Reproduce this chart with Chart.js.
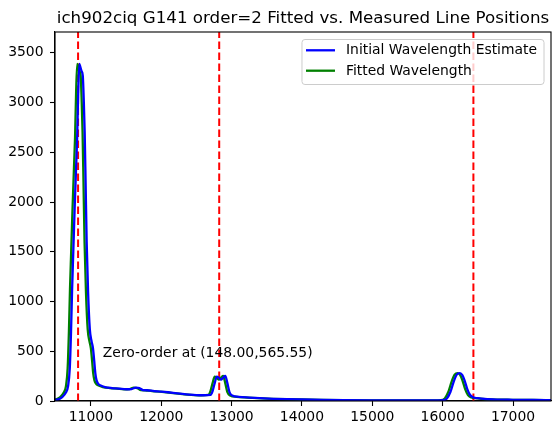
<!DOCTYPE html>
<html>
<head>
<meta charset="utf-8">
<script src="https://cdn.jsdelivr.net/npm/chart.js@4.4.1/dist/chart.umd.min.js"></script>
<style>
    html, body { margin: 0; padding: 0; background: #fff; }
    #wrap { width: 560px; height: 435px; }
</style>
</head>
<body>
<div id="wrap"><canvas id="chart" width="560" height="435"></canvas></div>
<script>
// Spectrum values
const wavelengthInitial = [10490, 10534, 10570, 10605, 10640, 10676, 10700, 10718, 10733, 10750,
    10770, 10790, 10805, 10820, 10836, 10850, 10866, 10885, 10900, 10912,
    10925, 10940, 10960, 10985, 11010, 11030, 11048, 11063, 11080, 11102,
    11140, 11200, 11300, 11400, 11500, 11580, 11640, 11690, 11740, 11800,
    11900, 12000, 12100, 12200, 12300, 12400, 12500, 12600, 12700, 12730,
    12760, 12790, 12820, 12850, 12880, 12910, 12940, 12970, 13010, 13100,
    13250, 13400, 13600, 13800, 14000, 14300, 14600, 15000, 15400, 15800,
    16000, 16060, 16110, 16160, 16200, 16245, 16280, 16310, 16350, 16390,
    16440, 16500, 16600, 16800, 17000, 17300, 17560];

const wavelengthFitted = [10460, 10504, 10540, 10575, 10610, 10646, 10670, 10688, 10703, 10720,
    10740, 10760, 10775, 10790, 10806, 10820, 10836, 10855, 10870, 10882,
    10895, 10910, 10930, 10955, 10980, 11000, 11018, 11033, 11050, 11072,
    11110, 11170, 11270, 11370, 11470, 11550, 11610, 11660, 11710, 11770,
    11870, 11970, 12070, 12170, 12270, 12370, 12470, 12570, 12670, 12700,
    12730, 12760, 12790, 12820, 12850, 12880, 12910, 12940, 12980, 13070,
    13220, 13370, 13570, 13770, 13970, 14270, 14570, 14970, 15370, 15770,
    15970, 16030, 16080, 16130, 16170, 16215, 16250, 16280, 16320, 16360,
    16410, 16470, 16570, 16770, 16970, 17270, 17545];

const flux = [12, 17, 28, 48, 80, 150, 330, 700, 1120, 1500,
    1950, 2350, 2650, 3100, 3390, 3360, 3320, 3270, 3000, 2700,
    2200, 1600, 1100, 720, 600, 530, 400, 280, 210, 175,
    155, 140, 130, 125, 118, 120, 135, 130, 110, 108,
    100, 95, 88, 80, 72, 65, 60, 58, 62, 100,
    180, 245, 232, 215, 235, 252, 180, 90, 55, 42,
    34, 28, 22, 18, 15, 11, 8, 6, 5, 5,
    8, 25, 90, 200, 265, 280, 260, 210, 120, 60,
    35, 28, 20, 14, 12, 10, 9];

const lineWavelengths = [10818, 12824, 16437];

const xTicks = [11000, 12000, 13000, 14000, 15000, 16000, 17000];
const yTicks = [0, 500, 1000, 1500, 2000, 2500, 3000, 3500];
const xRange = [10490, 17540];
const yRange = [0, 3710];

const titleText = 'ich902ciq G141 order=2 Fitted vs. Measured Line Positions';
const seriesLabels = ['Initial Wavelength Estimate', 'Fitted Wavelength'];
const seriesColors = ['#0000ff', '#008000'];
const noteText = 'Zero-order at (148.00,565.55)';
const notePosition = [11170, 440];

const FONT = 'DejaVu Sans';

function toPoints(xs, ys) {
    return xs.map((x, i) => ({ x: x, y: ys[i] }));
}

const datasets = [
    {
        label: seriesLabels[0],
        data: toPoints(wavelengthInitial, flux),
        borderColor: seriesColors[0],
        borderWidth: 2.3,
        pointRadius: 0,
        cubicInterpolationMode: 'monotone'
    },
    {
        label: seriesLabels[1],
        data: toPoints(wavelengthFitted, flux),
        borderColor: seriesColors[1],
        borderWidth: 2.3,
        pointRadius: 0,
        cubicInterpolationMode: 'monotone'
    }
];

lineWavelengths.forEach(w => {
    datasets.push({
        label: 'line',
        data: [{ x: w, y: yRange[0] }, { x: w, y: yRange[1] }],
        borderColor: '#ff0000',
        borderWidth: 2,
        borderDash: [7.5, 3.5],
        pointRadius: 0
    });
});

// Title, frame, note text and legend box drawn over the datasets
const overlayPlugin = {
    id: 'overlay',
    afterDatasetsDraw(chart) {
        const ctx = chart.ctx;
        const area = chart.chartArea;
        const xs = chart.scales.x;
        const ys = chart.scales.y;

        ctx.save();

        // title, centred over the axes
        ctx.fillStyle = '#000';
        ctx.font = '16.7px "' + FONT + '"';
        ctx.textAlign = 'center';
        ctx.textBaseline = 'middle';
        ctx.fillText(titleText, (area.left + area.right) / 2, 19);

        // note
        ctx.font = '13.9px "' + FONT + '"';
        ctx.textAlign = 'left';
        ctx.textBaseline = 'alphabetic';
        ctx.fillText(noteText, xs.getPixelForValue(notePosition[0]), ys.getPixelForValue(notePosition[1]));

        // axes frame
        ctx.strokeStyle = '#000';
        ctx.lineWidth = 1.1;
        ctx.strokeRect(area.left, area.top, area.right - area.left, area.bottom - area.top);

        // legend
        const textW = Math.max(...seriesLabels.map(s => ctx.measureText(s).width));
        const boxW = 4 + 29 + 11 + textW + 7;
        const boxH = 45;
        const bx = area.right - 7 - boxW;
        const by = area.top + 7.5;
        ctx.beginPath();
        ctx.roundRect(bx, by, boxW, boxH, 3);
        ctx.fillStyle = 'rgba(255,255,255,0.8)';
        ctx.fill();
        ctx.strokeStyle = '#cccccc';
        ctx.lineWidth = 1;
        ctx.stroke();

        ctx.textBaseline = 'middle';
        seriesLabels.forEach((label, i) => {
            const rowY = by + 10.8 + i * 20.4;
            ctx.beginPath();
            ctx.moveTo(bx + 4, rowY);
            ctx.lineTo(bx + 33, rowY);
            ctx.strokeStyle = seriesColors[i];
            ctx.lineWidth = 2.3;
            ctx.stroke();
            ctx.fillStyle = '#000';
            ctx.fillText(label, bx + 44, rowY + 0.5);
        });

        ctx.restore();
    }
};

new Chart(document.getElementById('chart'), {
    type: 'line',
    data: { datasets: datasets },
    options: {
        responsive: false,
        animation: false,
        devicePixelRatio: 1,
        layout: { padding: { left: 0, right: 9, top: 32, bottom: 0 } },
        plugins: {
            legend: { display: false },
            tooltip: { enabled: false },
            title: { display: false }
        },
        scales: {
            x: {
                type: 'linear',
                min: xRange[0],
                max: xRange[1],
                afterBuildTicks: scale => { scale.ticks = xTicks.map(v => ({ value: v })); },
                afterFit: scale => { scale.height = 34; },
                grid: { drawOnChartArea: false, drawTicks: true, tickLength: 5, tickColor: '#000', tickWidth: 1.1 },
                border: { display: true, color: '#000', width: 1.1 },
                ticks: {
                    color: '#000',
                    padding: 3,
                    maxRotation: 0,
                    autoSkip: false,
                    font: { family: FONT, size: 13.9 },
                    callback: v => String(v)
                }
            },
            y: {
                type: 'linear',
                min: yRange[0],
                max: yRange[1],
                afterBuildTicks: scale => { scale.ticks = yTicks.map(v => ({ value: v })); },
                afterFit: scale => { scale.width = 55; },
                grid: { drawOnChartArea: false, drawTicks: true, tickLength: 5, tickColor: '#000', tickWidth: 1.1 },
                border: { display: true, color: '#000', width: 1.1 },
                ticks: {
                    color: '#000',
                    padding: 6.5,
                    autoSkip: false,
                    font: { family: FONT, size: 13.9 },
                    callback: v => String(v)
                }
            }
        }
    },
    plugins: [overlayPlugin]
});
</script>
</body>
</html>
